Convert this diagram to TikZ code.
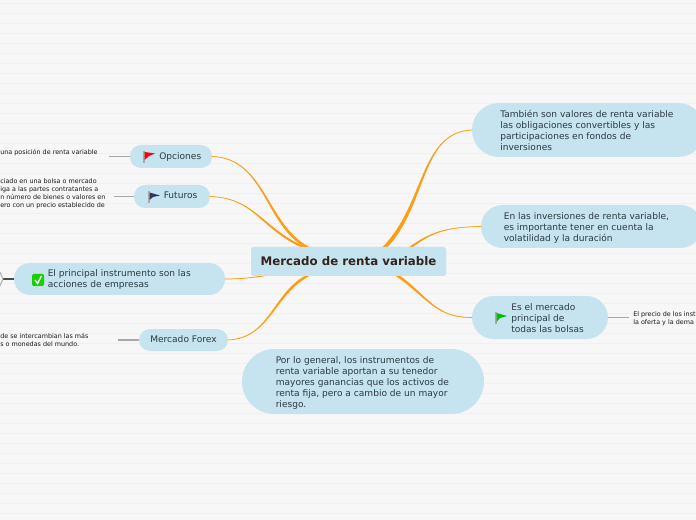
\documentclass[tikz,border=0pt]{standalone}
\usepackage{fontspec}
\usetikzlibrary{calc}
\setmainfont{DejaVu Sans}
\definecolor{bgc}{HTML}{F7F7F7}
\definecolor{linec}{HTML}{F0F0F0}
\definecolor{bub}{HTML}{C5E4F0}
\definecolor{org}{HTML}{FF9C14}
\definecolor{txt}{HTML}{2B3A42}
\definecolor{ctxt}{HTML}{33231A}
\definecolor{gr}{HTML}{A8A8A8}
\tikzset{
  x=0.75pt,y=-0.75pt,
  bubble/.style={fill=bub,inner sep=0pt,outer sep=0pt,rounded corners=#1},
  topic/.style={inner sep=0pt,anchor=north west,align=left,text=txt,font=\fontsize{6.8pt}{8.25pt}\selectfont},
  small/.style={inner sep=0pt,anchor=north west,align=left,text=black!90,font=\fontsize{4.8pt}{6pt}\selectfont},
  br/.style={draw=org,fill=org,line width=0.55pt,line join=round},
  leaf/.style={draw=gr,line width=0.8pt},
  flagpole/.style={draw=gr,line width=0.9pt}
}
% name, x1, y1, x2, y2, corner radius in px
\newcommand\bubnode[6]{%
  \pgfmathsetmacro\bw{(#4-#2)*0.75}\pgfmathsetmacro\bh{(#5-#3)*0.75}\pgfmathsetmacro\br{#6*0.75}%
  \node[bubble=\br pt,minimum width=\bw pt,minimum height=\bh pt] (#1) at ({(#2+#4)/2},{(#3+#5)/2}) {};}
% tapered connector: start, control 1, control 2, end, half width at end
\newcommand\taper[5]{%
  \draw[br] (#1) .. controls (#2) and (#3) .. ($(#4)+(-#5,0)$) -- ($(#4)+(#5,0)$) .. controls ($(#3)+(#5,0)$) and (#2) .. (#1) -- cycle;}
\begin{document}
\begin{tikzpicture}
\useasboundingbox (0,0) rectangle (696,520);
\clip (0,0) rectangle (696,520);
\fill[bgc] (0,0) rectangle (696,520);
\foreach \y in {0,...,51}{\draw[linec,line width=0.6pt] (0,3.5+10*\y) -- (696,3.5+10*\y);}
% bubbles
\node[fill=bub,inner sep=0pt,outer sep=0pt,rounded corners=2pt,minimum width=146.25pt,minimum height=21.75pt] (cbox) at (348.5,261.5) {};
\bubnode{op}{130}{145}{212}{168}{11}
\bubnode{fu}{134}{185}{210}{208}{11}
\bubnode{pr}{14}{263}{225}{295}{16}
\bubnode{fx}{139}{329}{228}{351}{11}
\bubnode{a}{472}{103}{705}{157}{27}
\bubnode{b}{481}{205}{702}{248}{21.5}
\bubnode{e}{472}{296}{608}{339}{21.5}
\bubnode{p}{242}{349}{484}{414}{32.5}
% anchor points on the central box
\coordinate (cop) at ($(cbox.north west)+(56,0)$);
\coordinate (cfu) at ($(cbox.north west)+(52,0)$);
\coordinate (cpr) at ($(cbox.south west)+(19,-1)$);
\coordinate (cfx) at ($(cbox.south west)+(56,0)$);
\coordinate (ca) at ($(cbox.north west)+(134,0)$);
\coordinate (cb) at ($(cbox.north west)+(160,0)$);
\coordinate (ce) at ($(cbox.south west)+(147,0)$);
% connectors
\taper{op.east}{265,158}{265,225}{cop}{1.6}
\taper{fu.east}{255,198}{260,228}{cfu}{1.6}
\taper{pr.east}{245,279}{255,277}{cpr}{0.5}
\taper{fx.east}{270,338}{272,295}{cfx}{1.6}
\taper{a.west}{420,132}{425,205}{ca}{2}
\taper{b.west}{445,227}{430,233}{cb}{1.2}
\taper{e.west}{435,318}{425,295}{ce}{1.6}
% redraw box over connector ends
\fill[bub,rounded corners=2pt] (cbox.south west) rectangle (cbox.north east);
\node[inner sep=0pt,text=ctxt,font=\fontsize{8.85pt}{10pt}\selectfont\bfseries] (center) at (cbox) {Mercado de renta variable};
% leaf lines
\coordinate (lop) at (109,156.5);
\coordinate (lfu) at (114,196.5);
\coordinate (lfx) at (118,340);
\coordinate (le) at (629,317.5);
\coordinate (lpr) at (3,279);
\coordinate (lpr1) at (-2,268);
\coordinate (lpr2) at (-2,290);
\draw[leaf] (lop) -- (op.west);
\draw[leaf] (lfu) -- (fu.west);
\draw[leaf] (lfx) -- (fx.west);
\draw[leaf] (e.east) -- (le);
\draw[draw=black!70,line width=0.8pt] (lpr) -- (pr.west);
\draw[draw=gr,line width=0.7pt] (lpr1) -- (lpr) -- (lpr2);
% labels
\node[topic] (opt) at (159,152) {Opciones};
\node[topic] (fut) at (163.5,192) {Futuros};
\node[topic] (prt) at (47.5,269.5) {El principal instrumento son las\\acciones de empresas};
\node[topic] (fxt) at (150,335.5) {Mercado Forex};
\node[topic] (at) at (500,110) {También son valores de renta variable\\las obligaciones convertibles y las\\participaciones en fondos de\\inversiones};
\node[topic] (bt) at (503.5,212) {En las inversiones de renta variable,\\es importante tener en cuenta la\\volatilidad y la duración};
\node[topic] (et) at (511,303) {Es el mercado\\principal de\\todas las bolsas};
\node[topic] (pt) at (275.5,356) {Por lo general, los instrumentos de\\renta variable aportan a su tenedor\\mayores ganancias que los activos de\\renta fija, pero a cambio de un mayor\\riesgo.};
% small texts
\node[small] (s1) at (0,149) {una posición de renta variable};
\node[small] (s2) at (0,178) {ciado en una bolsa o mercado\\iga a las partes contratantes a\\n número de bienes o valores en\\ero con un precio establecido de};
\node[small] (s3) at (0,333) {de se intercambian las más\\s o monedas del mundo.};
\node[small] (s4) at (633,311) {El precio de los inst\\la oferta y la dema};
% flags
\draw[flagpole] (144,151) -- (144,163);
\fill[red!100] (144.5,152) -- (155,153.5) -- (149,156) -- (144.5,160) -- cycle;
\draw[flagpole] (149,191.5) -- (149,203);
\fill[black!80!blue!80] (149.5,192.5) -- (160,195.5) -- (153,197) -- (149.5,200) -- cycle;
\draw[flagpole] (496,312.5) -- (496,324);
\fill[green!75!black] (496.5,313) -- (507,316) -- (500,318) -- (496.5,322) -- cycle;
\fill[green!80!black!90!yellow,rounded corners=1] (32,274) rectangle (44,286);
\draw[white,line width=1pt] (35,280) -- (37.5,283.5) -- (41.5,276);
\end{tikzpicture}
\end{document}
